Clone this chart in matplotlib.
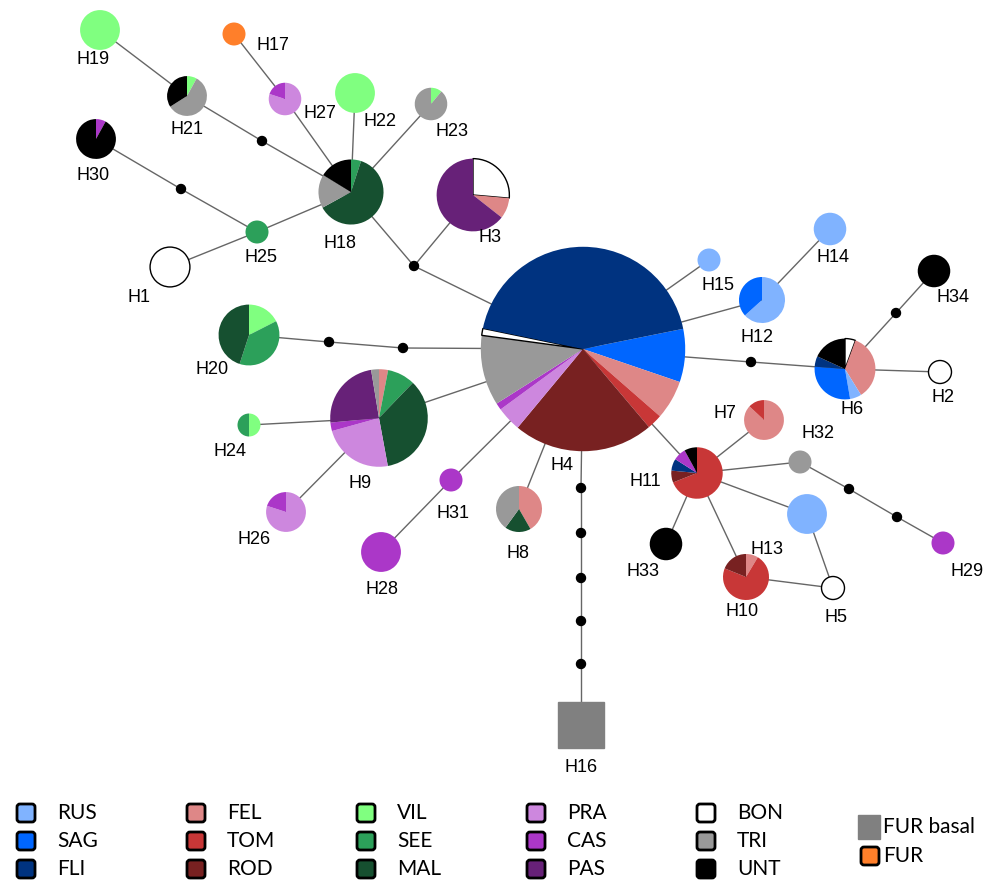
import numpy as np
import matplotlib
matplotlib.use("Agg")
import matplotlib.pyplot as plt
from matplotlib.patches import Wedge, Circle, Rectangle, FancyBboxPatch

# populations and colours
pops = ["RUS", "SAG", "FLI", "FEL", "TOM", "ROD", "VIL", "SEE", "MAL",
        "PRA", "CAS", "PAS", "BON", "TRI", "UNT", "FUR", "FUR basal"]
pop_colors = ["#80b3ff", "#0066ff", "#003380", "#de8787", "#c83737", "#782121",
              "#80ff80", "#2ca05a", "#165030", "#cd87de", "#ab37c8", "#672178",
              "#ffffff", "#999999", "#000000", "#ff7f2a", "#808080"]
col = dict(zip(pops, pop_colors))

# haplotypes: sample count and population make-up (shares in %)
hap_names = ["H1", "H2", "H3", "H4", "H5", "H6", "H7", "H8", "H9", "H10",
             "H11", "H12", "H13", "H14", "H15", "H16", "H17", "H18", "H19", "H20",
             "H21", "H22", "H23", "H24", "H25", "H26", "H27", "H28", "H29", "H30",
             "H31", "H32", "H33", "H34"]
hap_counts = [3, 1, 10, 79, 1, 7, 3, 4, 18, 4,
              5, 4, 3, 2, 1, 4, 1, 8, 3, 7,
              3, 3, 2, 1, 1, 3, 2, 3, 1, 3,
              1, 1, 2, 2]
hap_pops = [
    ["BON"],
    ["BON"],
    ["BON", "FEL", "PAS"],
    ["SAG", "FEL", "TOM", "ROD", "PRA", "CAS", "TRI", "BON", "FLI"],
    ["BON"],
    ["BON", "FEL", "RUS", "SAG", "FLI", "UNT"],
    ["FEL", "TOM"],
    ["FEL", "MAL", "TRI"],
    ["FEL", "SEE", "MAL", "PRA", "CAS", "PAS", "TRI"],
    ["FEL", "TOM", "ROD"],
    ["TOM", "ROD", "FLI", "CAS", "UNT"],
    ["RUS", "SAG"],
    ["RUS"],
    ["RUS"],
    ["RUS"],
    ["FUR basal"],
    ["FUR"],
    ["SEE", "MAL", "TRI", "UNT"],
    ["VIL"],
    ["VIL", "SEE", "MAL"],
    ["VIL", "TRI", "UNT"],
    ["VIL"],
    ["VIL", "TRI"],
    ["VIL", "SEE"],
    ["SEE"],
    ["PRA", "CAS"],
    ["PRA", "CAS"],
    ["CAS"],
    ["CAS"],
    ["CAS", "UNT"],
    ["CAS"],
    ["TRI"],
    ["UNT"],
    ["UNT"],
]
hap_shares = [
    [100],
    [100],
    [26.4, 9.2, 64.4],
    [8.4, 6.2, 2.4, 22.2, 3.9, 1.1, 11.1, 1.1, 43.6],
    [100],
    [5.6, 35.6, 6.1, 28.9, 5.6, 18.2],
    [87, 13],
    [41.7, 18.3, 40],
    [3, 9.2, 34.9, 23.6, 2.8, 23.9, 2.6],
    [8.6, 72.5, 18.9],
    [69, 7.5, 7.5, 8, 8],
    [63.3, 36.7],
    [100],
    [100],
    [100],
    [100],
    [100],
    [5, 62, 16.7, 16.3],
    [100],
    [17.5, 37.5, 45],
    [8, 58, 34],
    [100],
    [11, 89],
    [50, 50],
    [100],
    [80, 20],
    [80, 20],
    [100],
    [100],
    [8, 92],
    [100],
    [100],
    [100],
    [100],
]

# network links (v* are unsampled intermediate steps)
edges = [
    ("H19", "H21"), ("H21", "v1"), ("v1", "H18"), ("H17", "H27"), ("H27", "H18"),
    ("H22", "H18"), ("H23", "H18"), ("H30", "v2"), ("v2", "H25"), ("H1", "H25"),
    ("H25", "H18"), ("H18", "v3"), ("H3", "v3"), ("v3", "H4"),
    ("H20", "v4"), ("v4", "v5"), ("v5", "H4"),
    ("H24", "H9"), ("H26", "H9"), ("H9", "H4"), ("H28", "H31"), ("H31", "H4"),
    ("H8", "H4"), ("H4", "v6"), ("v6", "v7"), ("v7", "v8"), ("v8", "v9"),
    ("v9", "v10"), ("v10", "H16"),
    ("H4", "H15"), ("H4", "H12"), ("H12", "H14"), ("H4", "v11"), ("v11", "H6"),
    ("H6", "v12"), ("v12", "H34"), ("H6", "H2"),
    ("H4", "H11"), ("H11", "H7"), ("H11", "H32"), ("H32", "v13"), ("v13", "v14"),
    ("v14", "H29"), ("H11", "H13"), ("H11", "H10"), ("H11", "H33"),
    ("H13", "H5"), ("H10", "H5"),
]

# layout (pixel positions), label positions and pie start angles
pos = {
    "H1": (170, 267), "H2": (940, 372), "H3": (473, 195), "H4": (583, 349),
    "H5": (833, 588), "H6": (845, 369), "H7": (764, 420), "H8": (519, 509),
    "H9": (379, 418), "H10": (746, 577), "H11": (697, 473), "H12": (762, 300),
    "H13": (807, 514), "H14": (830, 229), "H15": (709, 260), "H16": (581, 725),
    "H17": (234, 34), "H18": (351, 192), "H19": (100, 30), "H20": (249, 335),
    "H21": (187, 96), "H22": (355, 93), "H23": (431, 104), "H24": (249, 425),
    "H25": (257, 232), "H26": (286, 512), "H27": (285, 99), "H28": (381, 552),
    "H29": (943, 543), "H30": (96, 139), "H31": (451, 480), "H32": (800, 462),
    "H33": (666, 544), "H34": (934, 271),
    "v1": (262, 141), "v2": (181, 189), "v3": (414, 266), "v4": (329, 342),
    "v5": (403, 348), "v6": (581, 488), "v7": (581, 533), "v8": (581, 578),
    "v9": (581, 621), "v10": (581, 664), "v11": (751, 362), "v12": (896, 313),
    "v13": (849, 489), "v14": (897, 517),
}
lab = {
    "H1": (139, 298), "H2": (943, 397), "H3": (490, 237), "H4": (562, 466),
    "H5": (836, 617), "H6": (852, 410), "H7": (725, 414), "H8": (518, 553),
    "H9": (360, 484), "H10": (742, 612), "H11": (645, 481), "H12": (757, 337),
    "H13": (767, 549), "H14": (833, 258), "H15": (718, 285), "H16": (581, 768),
    "H17": (273, 45), "H18": (340, 243), "H19": (93, 60), "H20": (212, 370),
    "H21": (187, 130), "H22": (380, 122), "H23": (452, 131), "H24": (230, 451),
    "H25": (261, 257), "H26": (254, 539), "H27": (320, 113), "H28": (382, 590),
    "H29": (967, 572), "H30": (93, 175), "H31": (453, 513), "H32": (818, 434),
    "H33": (643, 571), "H34": (953, 298),
}
start = {"H4": 11.4}
k = 11.5  # radius per sqrt(sample)

fig = plt.figure(figsize=(10, 8.8), dpi=100)
ax = fig.add_axes([0, 0, 1, 1])
ax.set_xlim(0, 1000)
ax.set_ylim(880, 0)
ax.axis("off")

for a, b in edges:
    (xa, ya), (xb, yb) = pos[a], pos[b]
    ax.plot([xa, xb], [ya, yb], color="#666666", lw=1, zorder=1)

for p, (x, y) in pos.items():
    if p.startswith("v"):
        ax.add_patch(Circle((x, y), 4.5, color="black", zorder=3))

for name, n, hp, sh in zip(hap_names, hap_counts, hap_pops, hap_shares):
    x, y = pos[name]
    r = k * np.sqrt(n)
    if hp == ["FUR basal"]:
        ax.add_patch(Rectangle((x - r, y - r), 2 * r, 2 * r, color=col["FUR basal"], zorder=2))
    else:
        sh = np.array(sh, dtype=float)
        ang = sh / sh.sum() * 360
        # y axis is flipped, so angles are negated to keep clockwise order
        a0 = start.get(name, 90)
        for p, w in zip(hp, ang):
            t1, t2 = -a0, -a0 + w
            ec = "black" if p == "BON" else "none"
            ax.add_patch(Wedge((x, y), r, t1, t2, facecolor=col[p], edgecolor=ec,
                               lw=1 if p == "BON" else 0, zorder=2))
            a0 -= w
    lx, ly = lab[name]
    ax.text(lx, ly, name, ha="center", va="center", fontsize=13,
            family="Liberation Sans", zorder=4)

# legend
leg_cols = [["RUS", "SAG", "FLI"], ["FEL", "TOM", "ROD"], ["VIL", "SEE", "MAL"],
            ["PRA", "CAS", "PAS"], ["BON", "TRI", "UNT"]]
rows_y = [813, 841, 869]
for i, grp in enumerate(leg_cols):
    x0 = 26 + 170 * i
    for p, yy in zip(grp, rows_y):
        ax.add_patch(FancyBboxPatch((x0 - 9, yy - 9), 18, 18,
                                    boxstyle="round,pad=0,rounding_size=3",
                                    facecolor=col[p], edgecolor="black", lw=2, zorder=2))
        ax.text(x0 + 31, yy, p, ha="left", va="center", fontsize=15, family="Lato")
ax.add_patch(Rectangle((858, 815), 22, 24, color=col["FUR basal"]))
ax.text(883, 827, "FUR basal", ha="left", va="center", fontsize=15, family="Lato")
ax.add_patch(FancyBboxPatch((861, 847), 18, 18, boxstyle="round,pad=0,rounding_size=3",
                            facecolor=col["FUR"], edgecolor="black", lw=2))
ax.text(883, 856, "FUR", ha="left", va="center", fontsize=15, family="Lato")

fig.savefig("out.png", dpi=100)
